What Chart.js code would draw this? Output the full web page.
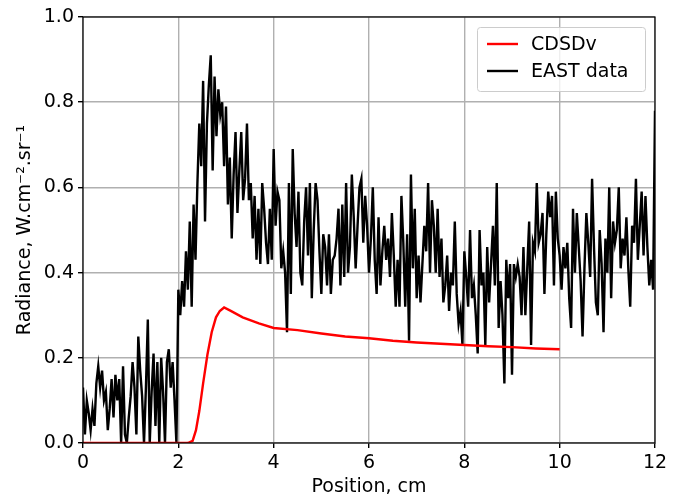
<!DOCTYPE html>
<html>
<head>
<meta charset="utf-8">
<script src="https://cdn.jsdelivr.net/npm/chart.js@4/dist/chart.umd.min.js"></script>
<style>
  html, body { margin: 0; padding: 0; background: #fff; }
  #wrap { width: 678px; height: 496px; }
</style>
</head>
<body>
<div id="wrap"><canvas id="radianceChart" width="678" height="496"></canvas></div>
<script>
// measured radiance, sampled every 0.04 cm from 0 to 12 cm
const eastStart = 0;
const eastStep = 0.04;
const eastRadiance = [
  0.13, 0.02, 0.10, 0.07, 0.03, 0.08, 0.04, 0.14, 0.18, 0.13,
  0.17, 0.10, 0.12, 0.03, 0.08, 0.15, 0.06, 0.16, 0.10, 0.15,
  0.00, 0.18, 0.02, 0.00, 0.06, 0.11, 0.19, 0.13, 0.02, 0.25,
  0.17, 0.11, 0.00, 0.13, 0.29, 0.00, 0.12, 0.21, 0.04, 0.19,
  0.00, 0.20, 0.12, 0.00, 0.19, 0.22, 0.13, 0.19, 0.10, 0.00,
  0.36, 0.30, 0.38, 0.32, 0.45, 0.36, 0.52, 0.32, 0.56, 0.43,
  0.61, 0.75, 0.65, 0.85, 0.52, 0.75, 0.84, 0.91, 0.64, 0.86,
  0.72, 0.83, 0.77, 0.80, 0.65, 0.79, 0.56, 0.67, 0.48, 0.63,
  0.73, 0.54, 0.64, 0.73, 0.57, 0.62, 0.75, 0.57, 0.61, 0.48,
  0.58, 0.43, 0.55, 0.42, 0.61, 0.55, 0.47, 0.42, 0.55, 0.43,
  0.69, 0.51, 0.59, 0.57, 0.41, 0.45, 0.40, 0.26, 0.61, 0.35,
  0.69, 0.54, 0.46, 0.59, 0.40, 0.37, 0.52, 0.60, 0.44, 0.61,
  0.34, 0.50, 0.61, 0.57, 0.45, 0.35, 0.49, 0.46, 0.37, 0.49,
  0.35, 0.43, 0.44, 0.48, 0.55, 0.37, 0.56, 0.39, 0.61, 0.40,
  0.46, 0.63, 0.53, 0.41, 0.51, 0.60, 0.62, 0.47, 0.58, 0.51,
  0.40, 0.48, 0.60, 0.43, 0.35, 0.53, 0.37, 0.45, 0.51, 0.43,
  0.48, 0.39, 0.54, 0.44, 0.32, 0.43, 0.32, 0.58, 0.47, 0.32,
  0.49, 0.24, 0.63, 0.41, 0.55, 0.34, 0.44, 0.33, 0.42, 0.51,
  0.45, 0.61, 0.40, 0.57, 0.51, 0.40, 0.55, 0.39, 0.48, 0.33,
  0.37, 0.44, 0.31, 0.40, 0.37, 0.52, 0.35, 0.28, 0.31, 0.23,
  0.45, 0.39, 0.32, 0.50, 0.34, 0.37, 0.30, 0.21, 0.50, 0.37,
  0.40, 0.23, 0.46, 0.33, 0.42, 0.51, 0.37, 0.61, 0.27, 0.38,
  0.30, 0.14, 0.43, 0.34, 0.42, 0.16, 0.42, 0.39, 0.42, 0.39,
  0.30, 0.46, 0.30, 0.41, 0.52, 0.23, 0.47, 0.45, 0.61, 0.47,
  0.49, 0.54, 0.35, 0.49, 0.59, 0.53, 0.58, 0.37, 0.59, 0.48,
  0.44, 0.36, 0.46, 0.41, 0.47, 0.34, 0.27, 0.55, 0.40, 0.54,
  0.46, 0.38, 0.25, 0.41, 0.54, 0.47, 0.39, 0.62, 0.46, 0.33,
  0.30, 0.50, 0.42, 0.26, 0.48, 0.40, 0.60, 0.34, 0.52, 0.47,
  0.50, 0.60, 0.41, 0.48, 0.44, 0.53, 0.41, 0.32, 0.51, 0.47,
  0.62, 0.43, 0.51, 0.59, 0.44, 0.58, 0.46, 0.37, 0.43, 0.36,
  0.78
];

// CDSDv simulation
const cdsdvPosition = [0, 2.2, 2.3, 2.37, 2.44, 2.52, 2.61, 2.7, 2.79, 2.87, 2.96, 3.1, 3.35, 3.69, 4.0, 4.5, 5.0, 5.5, 6.0, 6.5, 7.0, 7.5, 8.0, 8.5, 9.0, 9.5, 10.0];
const cdsdvRadiance = [0, 0, 0.005, 0.03, 0.075, 0.14, 0.207, 0.26, 0.295, 0.31, 0.318, 0.31, 0.295, 0.281, 0.27, 0.265, 0.257, 0.25, 0.246, 0.24, 0.236, 0.233, 0.23, 0.227, 0.225, 0.222, 0.22];

const xTicks = [0, 2, 4, 6, 8, 10, 12];
const yTicks = [0.0, 0.2, 0.4, 0.6, 0.8, 1.0];

const FONT = 'DejaVu Sans';
const FONT_SIZE = 19;

const eastPoints = eastRadiance.map((v, i) => ({ x: +(eastStart + i * eastStep).toFixed(2), y: v }));
const cdsdvPoints = cdsdvPosition.map((x, i) => ({ x: x, y: cdsdvRadiance[i] }));

// frame around the plot plus the boxed legend in the upper right
const framePlugin = {
  id: 'frame',
  afterDatasetsDraw(chart) {
    const { ctx, chartArea: a } = chart;
    ctx.save();
    ctx.strokeStyle = '#000';
    ctx.lineWidth = 1.2;
    ctx.strokeRect(a.left, a.top, a.right - a.left, a.bottom - a.top);

    const w = 168, h = 64;
    const x0 = a.right - 10 - w, y0 = a.top + 10;
    ctx.fillStyle = 'rgba(255,255,255,0.8)';
    ctx.strokeStyle = '#cccccc';
    ctx.lineWidth = 1;
    ctx.beginPath();
    ctx.roundRect(x0 + 0.5, y0 + 0.5, w, h, 3);
    ctx.fill();
    ctx.stroke();

    ctx.font = FONT_SIZE + 'px "' + FONT + '"';
    ctx.textBaseline = 'middle';
    ctx.textAlign = 'left';
    chart.data.datasets.forEach((ds, i) => {
      const ly = y0 + 17 + i * 27;
      ctx.strokeStyle = ds.borderColor;
      ctx.lineWidth = 2.4;
      ctx.beginPath();
      ctx.moveTo(x0 + 10, ly);
      ctx.lineTo(x0 + 41, ly);
      ctx.stroke();
      ctx.fillStyle = '#000';
      ctx.fillText(ds.label, x0 + 54, ly + 1);
    });
    ctx.restore();
  }
};

new Chart(document.getElementById('radianceChart'), {
  type: 'line',
  data: {
    datasets: [
      {
        label: 'CDSDv',
        data: cdsdvPoints,
        borderColor: '#ff0000',
        borderWidth: 2.4,
        pointRadius: 0,
        tension: 0
      },
      {
        label: 'EAST data',
        data: eastPoints,
        borderColor: '#000000',
        borderWidth: 2.4,
        pointRadius: 0,
        tension: 0
      }
    ]
  },
  options: {
    responsive: false,
    animation: false,
    layout: { padding: { left: 0, right: 23, top: 17, bottom: 0 } },
    plugins: {
      legend: { display: false },
      tooltip: { enabled: false }
    },
    scales: {
      x: {
        type: 'linear',
        min: 0,
        max: 12,
        afterBuildTicks: (scale) => { scale.ticks = xTicks.map(v => ({ value: v })); },
        afterFit: (scale) => { scale.height = 53; },
        grid: { color: '#b0b0b0', lineWidth: 1.4, tickColor: '#000', tickLength: 5, drawTicks: true },
        border: { display: false },
        ticks: { color: '#000', font: { family: FONT, size: FONT_SIZE }, padding: 4, maxRotation: 0 },
        title: { display: true, text: 'Position, cm', color: '#000', font: { family: FONT, size: FONT_SIZE }, padding: { top: 0, bottom: -2 } }
      },
      y: {
        min: 0,
        max: 1,
        afterBuildTicks: (scale) => { scale.ticks = yTicks.map(v => ({ value: v })); },
        afterFit: (scale) => { scale.width = 83; },
        grid: { color: '#b0b0b0', lineWidth: 1.4, tickColor: '#000', tickLength: 5, drawTicks: true },
        border: { display: false },
        ticks: { color: '#000', font: { family: FONT, size: FONT_SIZE }, padding: 4, callback: (v) => v.toFixed(1) },
        title: { display: true, text: 'Radiance, W.cm⁻².sr⁻¹', color: '#000', font: { family: FONT, size: FONT_SIZE }, padding: { top: 14, bottom: 0 } }
      }
    }
  },
  plugins: [framePlugin]
});
</script>
</body>
</html>
